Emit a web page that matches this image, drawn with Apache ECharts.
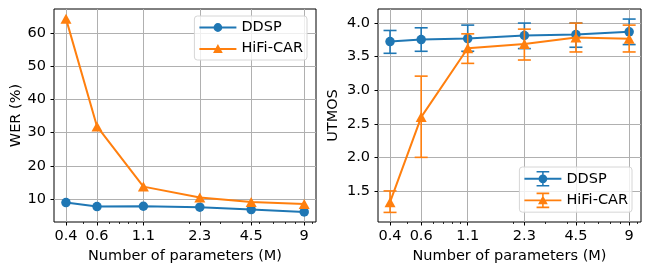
<!DOCTYPE html>
<html><head><meta charset="utf-8">
<script src="https://cdn.jsdelivr.net/npm/echarts@6/dist/echarts.min.js"></script>
<style>html,body{margin:0;padding:0;background:#fff}#c{width:649px;height:272px}</style>
</head><body><div id="c"></div>
<script>
// ---- data ----
const params = [0.4, 0.6, 1.1, 2.3, 4.5, 9];
const xTickLabels = ['0.4', '0.6', '1.1', '2.3', '4.5', '9'];
const minorTicks = [0.5, 0.7, 0.8, 0.9, 1, 2, 3, 4, 5, 6, 7, 8, 10];
const werDDSP = [9.0, 7.8, 7.9, 7.6, 6.9, 6.2];
const werHiFi = [64.3, 31.9, 13.8, 10.5, 9.2, 8.6];
const werTicks = [10, 20, 30, 40, 50, 60];
const utmosDDSP = [3.725, 3.755, 3.77, 3.815, 3.83, 3.87];
const utmosDDSPLo = [3.55, 3.58, 3.58, 3.62, 3.64, 3.68];
const utmosDDSPHi = [3.89, 3.93, 3.97, 4.0, 4.0, 4.06];
const utmosHiFi = [1.333, 2.60, 3.625, 3.69, 3.785, 3.765];
const utmosHiFiLo = [1.18, 2.0, 3.40, 3.45, 3.57, 3.57];
const utmosHiFiHi = [1.50, 3.21, 3.84, 3.91, 4.0, 3.97];
const utmosTicks = [1.5, 2.0, 2.5, 3.0, 3.5, 4.0];

const BLUE = '#1f77b4', ORANGE = '#ff7f0e';
const FONT = 'DejaVu Sans';
const FS = 14.5;

const pairs = (xs, ys) => xs.map((x, i) => [x, ys[i]]);
const triples = (xs, lo, hi) => xs.map((x, i) => [x, lo[i], hi[i]]);

function errRender(color) {
  return function (params, api) {
    const x = api.value(0), lo = api.value(1), hi = api.value(2);
    const p1 = api.coord([x, lo]), p2 = api.coord([x, hi]);
    const hw = 6.5;
    const st = { stroke: color, lineWidth: 1.6 };
    return { type: 'group', children: [
      { type: 'line', shape: { x1: p1[0], y1: p1[1], x2: p2[0], y2: p2[1] }, style: st },
      { type: 'line', shape: { x1: p1[0] - hw, y1: p1[1], x2: p1[0] + hw, y2: p1[1] }, style: st },
      { type: 'line', shape: { x1: p2[0] - hw, y1: p2[1], x2: p2[0] + hw, y2: p2[1] }, style: st }
    ]};
  };
}

const iconLineCircle = 'path://M0 7h38v2h-38Z M14.5 8a4.5 4.5 0 1 1 9 0a4.5 4.5 0 1 1 -9 0Z';
const iconLineTri = 'path://M0 7h38v2h-38Z M19 3L24 12L14 12Z';
const iconErrCircle = 'path://M0 7h38v2h-38Z M18.2 0h1.6v16h-1.6Z M12.5 0h13v1.6h-13Z M12.5 14.4h13v1.6h-13Z M14.5 8a4.5 4.5 0 1 1 9 0a4.5 4.5 0 1 1 -9 0Z';
const iconErrTri = 'path://M0 7h38v2h-38Z M18.2 0h1.6v16h-1.6Z M12.5 0h13v1.6h-13Z M12.5 14.4h13v1.6h-13Z M19 3L24 12L14 12Z';

function xMain(gi) {
  return {
    type: 'log', gridIndex: gi, position: 'bottom', min: 0.342, max: 10.5,
    name: 'Number of parameters (M)', nameLocation: 'middle', nameGap: 24,
    nameTextStyle: { fontFamily: FONT, fontSize: FS, color: '#000', verticalAlign: 'top' },
    axisLine: { show: false },
    axisTick: { show: true, customValues: params, length: 3.5, lineStyle: { color: '#000', width: 1 } },
    axisLabel: { customValues: params, margin: 7, fontFamily: FONT, fontSize: FS, color: '#000',
      formatter: v => xTickLabels[params.findIndex(p => Math.abs(p - v) < 1e-6)] ?? String(v) },
    splitLine: { show: true, lineStyle: { color: '#b0b0b0', width: 1 } },
    minorTick: { show: false }, minorSplitLine: { show: false }
  };
}
function xMinor(gi) {
  return {
    type: 'log', gridIndex: gi, position: 'bottom', min: 0.342, max: 10.5,
    axisLine: { show: false },
    axisTick: { show: true, customValues: minorTicks, length: 2, lineStyle: { color: '#000', width: 0.8 } },
    axisLabel: { show: false, customValues: minorTicks },
    splitLine: { show: false }
  };
}
function yAxis(gi, min, max, ticks, name, gap, fmt) {
  return {
    type: 'value', gridIndex: gi, min: min, max: max,
    name: name, nameLocation: 'middle', nameGap: gap, nameRotate: 90,
    nameTextStyle: { fontFamily: FONT, fontSize: FS, color: '#000' },
    axisLine: { show: false },
    axisTick: { show: true, customValues: ticks, length: 3.5, lineStyle: { color: '#000', width: 1 } },
    axisLabel: { customValues: ticks, margin: 8, fontFamily: FONT, fontSize: FS, color: '#000', formatter: fmt },
    splitLine: { show: true, lineStyle: { color: '#b0b0b0', width: 1 } }
  };
}

const legendCommon = {
  orient: 'vertical', itemWidth: 37, itemHeight: 16, itemGap: 6,
  backgroundColor: 'rgba(255,255,255,0.8)', borderColor: '#d6d6d6', borderWidth: 1, borderRadius: 3,
  padding: [4, 4, 4, 5],
  textStyle: { fontFamily: FONT, fontSize: FS, color: '#000' },
  selectedMode: false
};

const option = {
  animation: false,
  backgroundColor: '#fff',
  grid: [
    { left: 54, right: 333, top: 9, bottom: 50, show: true, borderColor: '#000', borderWidth: 1, backgroundColor: 'transparent' },
    { left: 378, right: 8, top: 9, bottom: 50, show: true, borderColor: '#000', borderWidth: 1, backgroundColor: 'transparent' }
  ],
  xAxis: [xMain(0), xMain(1), xMinor(0), xMinor(1)],
  yAxis: [
    yAxis(0, 3.16, 67.2, werTicks, 'WER (%)', 30, v => String(v)),
    yAxis(1, 1.037, 4.21, utmosTicks, 'UTMOS', 37, v => v.toFixed(1))
  ],
  legend: [
    Object.assign({}, legendCommon, { right: 342, top: 16,
      data: [{ name: 'DDSP', icon: iconLineCircle, itemStyle: { color: BLUE } },
             { name: 'HiFi-CAR', icon: iconLineTri, itemStyle: { color: ORANGE } }] }),
    Object.assign({}, legendCommon, { right: 17, top: 167,
      data: [{ name: 'DDSP', icon: iconErrCircle, itemStyle: { color: BLUE } },
             { name: 'HiFi-CAR', icon: iconErrTri, itemStyle: { color: ORANGE } }] })
  ],
  series: [
    { name: 'DDSP', type: 'line', xAxisIndex: 0, yAxisIndex: 0, data: pairs(params, werDDSP),
      symbol: 'circle', symbolSize: 9.5, color: BLUE, lineStyle: { width: 2 }, z: 3 },
    { name: 'HiFi-CAR', type: 'line', xAxisIndex: 0, yAxisIndex: 0, data: pairs(params, werHiFi),
      symbol: 'triangle', symbolSize: [11, 10], color: ORANGE, lineStyle: { width: 2 }, z: 5 },
    { name: 'DDSP', type: 'custom', xAxisIndex: 1, yAxisIndex: 1, data: triples(params, utmosDDSPLo, utmosDDSPHi),
      renderItem: errRender(BLUE), encode: { x: 0, y: [1, 2] }, color: BLUE, z: 2 },
    { name: 'DDSP', type: 'line', xAxisIndex: 1, yAxisIndex: 1, data: pairs(params, utmosDDSP),
      symbol: 'circle', symbolSize: 9.5, color: BLUE, lineStyle: { width: 2 }, z: 3 },
    { name: 'HiFi-CAR', type: 'custom', xAxisIndex: 1, yAxisIndex: 1, data: triples(params, utmosHiFiLo, utmosHiFiHi),
      renderItem: errRender(ORANGE), encode: { x: 0, y: [1, 2] }, color: ORANGE, z: 4 },
    { name: 'HiFi-CAR', type: 'line', xAxisIndex: 1, yAxisIndex: 1, data: pairs(params, utmosHiFi),
      symbol: 'triangle', symbolSize: [11, 10], color: ORANGE, lineStyle: { width: 2 }, z: 5 }
  ]
};
const chart = echarts.init(document.getElementById('c'), null, { renderer: 'canvas' });
chart.setOption(option);
</script></body></html>
